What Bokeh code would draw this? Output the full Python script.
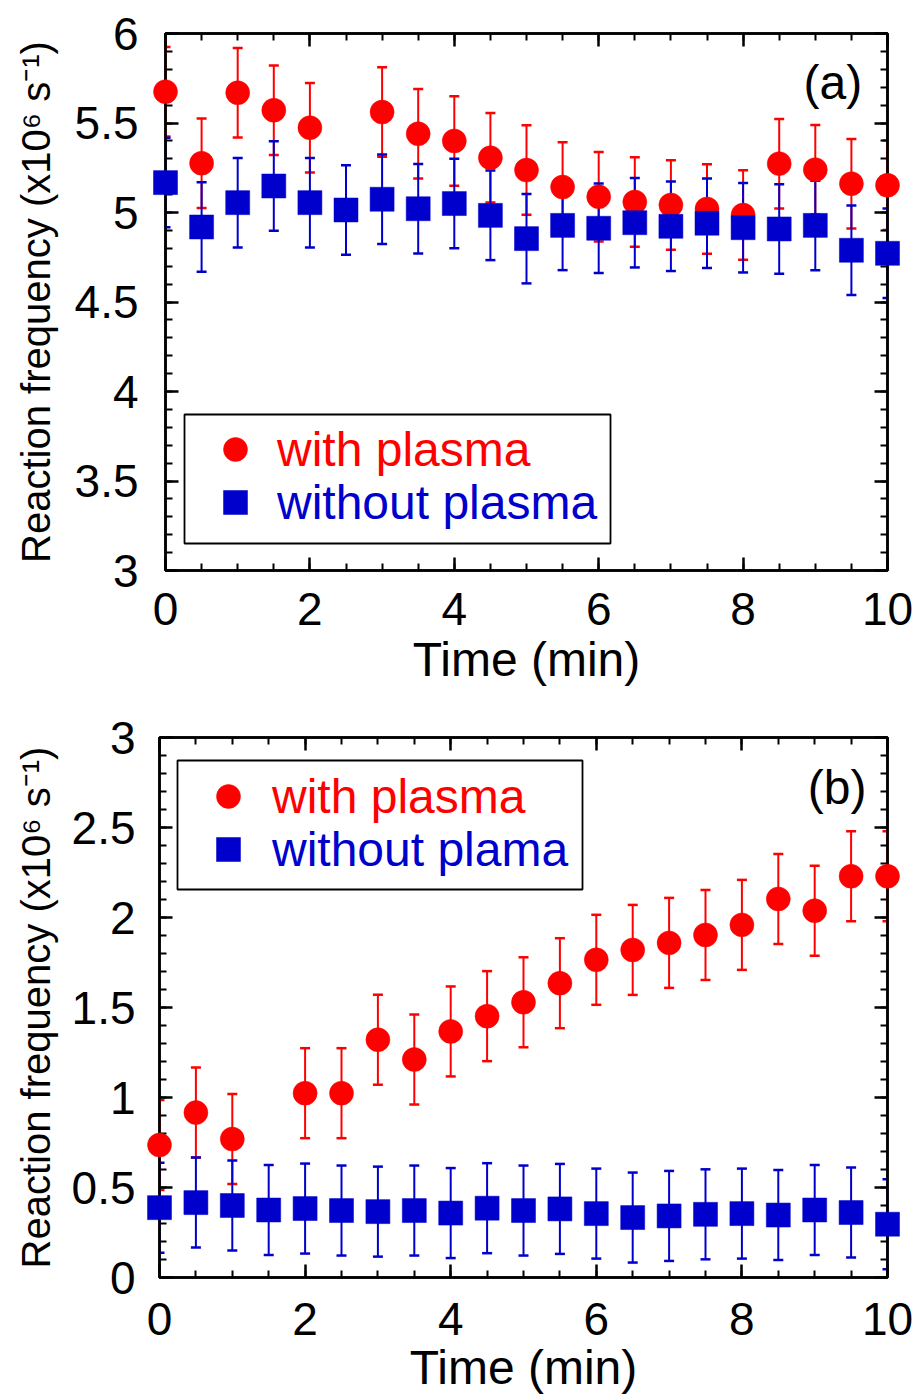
from bokeh.plotting import figure
from bokeh.models import (Range1d, FixedTicker, LinearAxis, Legend, LegendItem,
                          Label, BoxAnnotation, ColumnDataSource)
from bokeh.embed import file_html
from bokeh.resources import INLINE

# ---------------- data ----------------
times = [0, 0.5, 1, 1.5, 2, 2.5, 3, 3.5, 4, 4.5, 5, 5.5, 6, 6.5, 7, 7.5, 8, 8.5, 9, 9.5, 10]

# panel (a)
a_with = [5.675, 5.275, 5.669, 5.571, 5.474, None, 5.561, 5.44, 5.40, 5.306, 5.237,
          5.142, 5.088, 5.059, 5.042, 5.02, 4.986, 5.273, 5.239, 5.161, 5.152]
a_without = [5.167, 4.919, 5.055, 5.148, 5.055, 5.014, 5.074, 5.021, 5.05, 4.984, 4.854,
             4.928, 4.912, 4.943, 4.923, 4.94, 4.915, 4.908, 4.928, 4.789, 4.772]
a_err = 0.25

# panel (b)
b_with = [0.736, 0.916, 0.769, None, 1.024, 1.024, 1.321, 1.211, 1.367, 1.452, 1.529,
          1.635, 1.765, 1.820, 1.859, 1.903, 1.959, 2.103, 2.038, 2.229, 2.229]
b_without = [0.388, 0.416, 0.40, 0.375, 0.383, 0.372, 0.366, 0.372, 0.358, 0.385, 0.372,
             0.381, 0.355, 0.333, 0.342, 0.351, 0.355, 0.347, 0.375, 0.361, 0.296]
b_err = 0.25

x_ticks = [0, 2, 4, 6, 8, 10]
x_tick_labels = ["0", "2", "4", "6", "8", "10"]
x_minor = [i * 0.5 for i in range(21)]

ya_ticks = [3, 3.5, 4, 4.5, 5, 5.5, 6]
ya_tick_labels = ["3", "3.5", "4", "4.5", "5", "5.5", "6"]
ya_minor = [round(3 + i * 0.1, 1) for i in range(31)]

yb_ticks = [0, 0.5, 1, 1.5, 2, 2.5, 3]
yb_tick_labels = ["0", "0.5", "1", "1.5", "2", "2.5", "3"]
yb_minor = [round(i * 0.1, 1) for i in range(31)]

RED = "#ff0000"
BLUE = "#0000cc"
FONT = "Liberation Sans"
YLABEL = "Reaction frequency (x10\u2076 s\u207b\u00b9)"


def src(xs, ys, err):
    pts = [(x, y) for x, y in zip(xs, ys) if y is not None]
    return ColumnDataSource(dict(
        x=[p[0] for p in pts],
        y=[p[1] for p in pts],
        lo=[p[1] - err for p in pts],
        hi=[p[1] + err for p in pts],
    ))


def style_axis(ax, ticks, minors, labels=None):
    ax.ticker = FixedTicker(ticks=ticks, minor_ticks=minors)
    ax.major_tick_in = 13
    ax.major_tick_out = 0
    ax.minor_tick_in = 7
    ax.minor_tick_out = 0
    ax.major_tick_line_width = 2.5
    ax.minor_tick_line_width = 2
    ax.major_tick_line_color = "black"
    ax.minor_tick_line_color = "black"
    ax.axis_line_width = 2.5
    ax.axis_line_color = "black"
    if labels is not None:
        ax.major_label_overrides = {t: l for t, l in zip(ticks, labels)}
        ax.major_label_text_font = FONT
        ax.major_label_text_font_size = "46px"
        ax.major_label_text_color = "black"
    else:
        ax.major_label_overrides = {t: "" for t in ticks}
        ax.major_label_text_font_size = "1px"


def series(p, s, color, marker):
    p.segment(x0="x", y0="lo", x1="x", y1="hi", source=s, line_color=color, line_width=2)
    p.scatter(x="x", y="hi", source=s, marker="dash", size=10, line_color=color, line_width=2.5)
    p.scatter(x="x", y="lo", source=s, marker="dash", size=10, line_color=color, line_width=2.5)
    # markers are drawn on the overlay level so that points on the frame edge are not cut
    return p.scatter(x="x", y="y", source=s, marker=marker, size=24,
                     fill_color=color, line_color=color, line_width=0.5, level="overlay")


def make_panel(height, borders, yr, yticks, ylabels, yminor, with_vals, without_vals, err,
               tag, tag_xy, leg_red, leg_blue, box, red_label, blue_label, stand):
    left, right, top, bottom = borders
    xs1, xs2, ys1, ys2 = stand
    p = figure(width=915, height=height, x_range=Range1d(0, 10), y_range=Range1d(*yr),
               output_backend="svg", toolbar_location=None,
               min_border_left=left, min_border_right=right,
               min_border_top=top, min_border_bottom=bottom)
    p.xgrid.visible = False
    p.ygrid.visible = False
    p.outline_line_color = "black"
    p.outline_line_width = 2.5
    p.background_fill_color = "white"
    p.border_fill_color = "white"

    style_axis(p.xaxis[0], x_ticks, x_minor, x_tick_labels)
    style_axis(p.yaxis[0], yticks, yminor, ylabels)
    p.xaxis.axis_label = "Time (min)"
    p.xaxis.axis_label_text_font = FONT
    p.xaxis.axis_label_text_font_size = "48px"
    p.xaxis.axis_label_text_font_style = "normal"
    p.xaxis.axis_label_text_color = "black"
    p.xaxis.major_label_standoff = xs1
    p.xaxis.axis_label_standoff = xs2
    p.yaxis.axis_label = YLABEL
    p.yaxis.axis_label_text_font = FONT
    p.yaxis.axis_label_text_font_size = "40px"
    p.yaxis.axis_label_text_font_style = "normal"
    p.yaxis.axis_label_text_color = "black"
    p.yaxis.major_label_standoff = ys1
    p.yaxis.axis_label_standoff = ys2

    top_ax = LinearAxis()
    style_axis(top_ax, x_ticks, x_minor)
    p.add_layout(top_ax, "above")
    right_ax = LinearAxis()
    style_axis(right_ax, yticks, yminor)
    p.add_layout(right_ax, "right")

    r_red = series(p, src(times, with_vals, err), RED, "circle")
    r_blue = series(p, src(times, without_vals, err), BLUE, "square")

    bl, br, bb, bt = box
    p.add_layout(BoxAnnotation(left=bl, right=br, bottom=bb, top=bt,
                               left_units="screen", right_units="screen",
                               bottom_units="screen", top_units="screen",
                               fill_alpha=0, line_color="black", line_alpha=1,
                               line_width=1.8))

    for (loc, st), r, lab, col in ((leg_red, r_red, red_label, RED),
                                   (leg_blue, r_blue, blue_label, BLUE)):
        lg = Legend(items=[LegendItem(label=lab, renderers=[r])], location=loc,
                    glyph_width=60, glyph_height=60, padding=0, spacing=0, margin=0,
                    label_standoff=st, label_text_font=FONT,
                    label_text_font_size="48px", label_text_color=col,
                    border_line_alpha=0, background_fill_alpha=0)
        p.add_layout(lg)

    p.add_layout(Label(x=tag_xy[0], y=tag_xy[1], text=tag, text_align="right",
                       text_baseline="alphabetic", text_font=FONT,
                       text_font_size="48px", text_color="black"))
    return p


pa = make_panel(700, (165, 28, 33, 130), (3, 6), ya_ticks, ya_tick_labels, ya_minor,
                a_with, a_without, a_err, "(a)", (9.65, 5.726),
                ((40, 91), 12), ((40, 38), 12), (19, 445, 27, 156),
                "with plasma", "without plasma", (22, 5, 27, 14))
pb = make_panel(698, (159, 28, 37, 121), (0, 3), yb_ticks, yb_tick_labels, yb_minor,
                b_with, b_without, b_err, "(b)", (9.71, 2.723),
                ((39, 451), 14), ((39, 398), 14), (18, 423, 388, 517),
                "with plasma", "without plama", (25, 3, 24, 11))

# two separate roots, stacked on the page (keeps each panel's own frame position)
open("out.html", "w").write(file_html([pa, pb], INLINE))
